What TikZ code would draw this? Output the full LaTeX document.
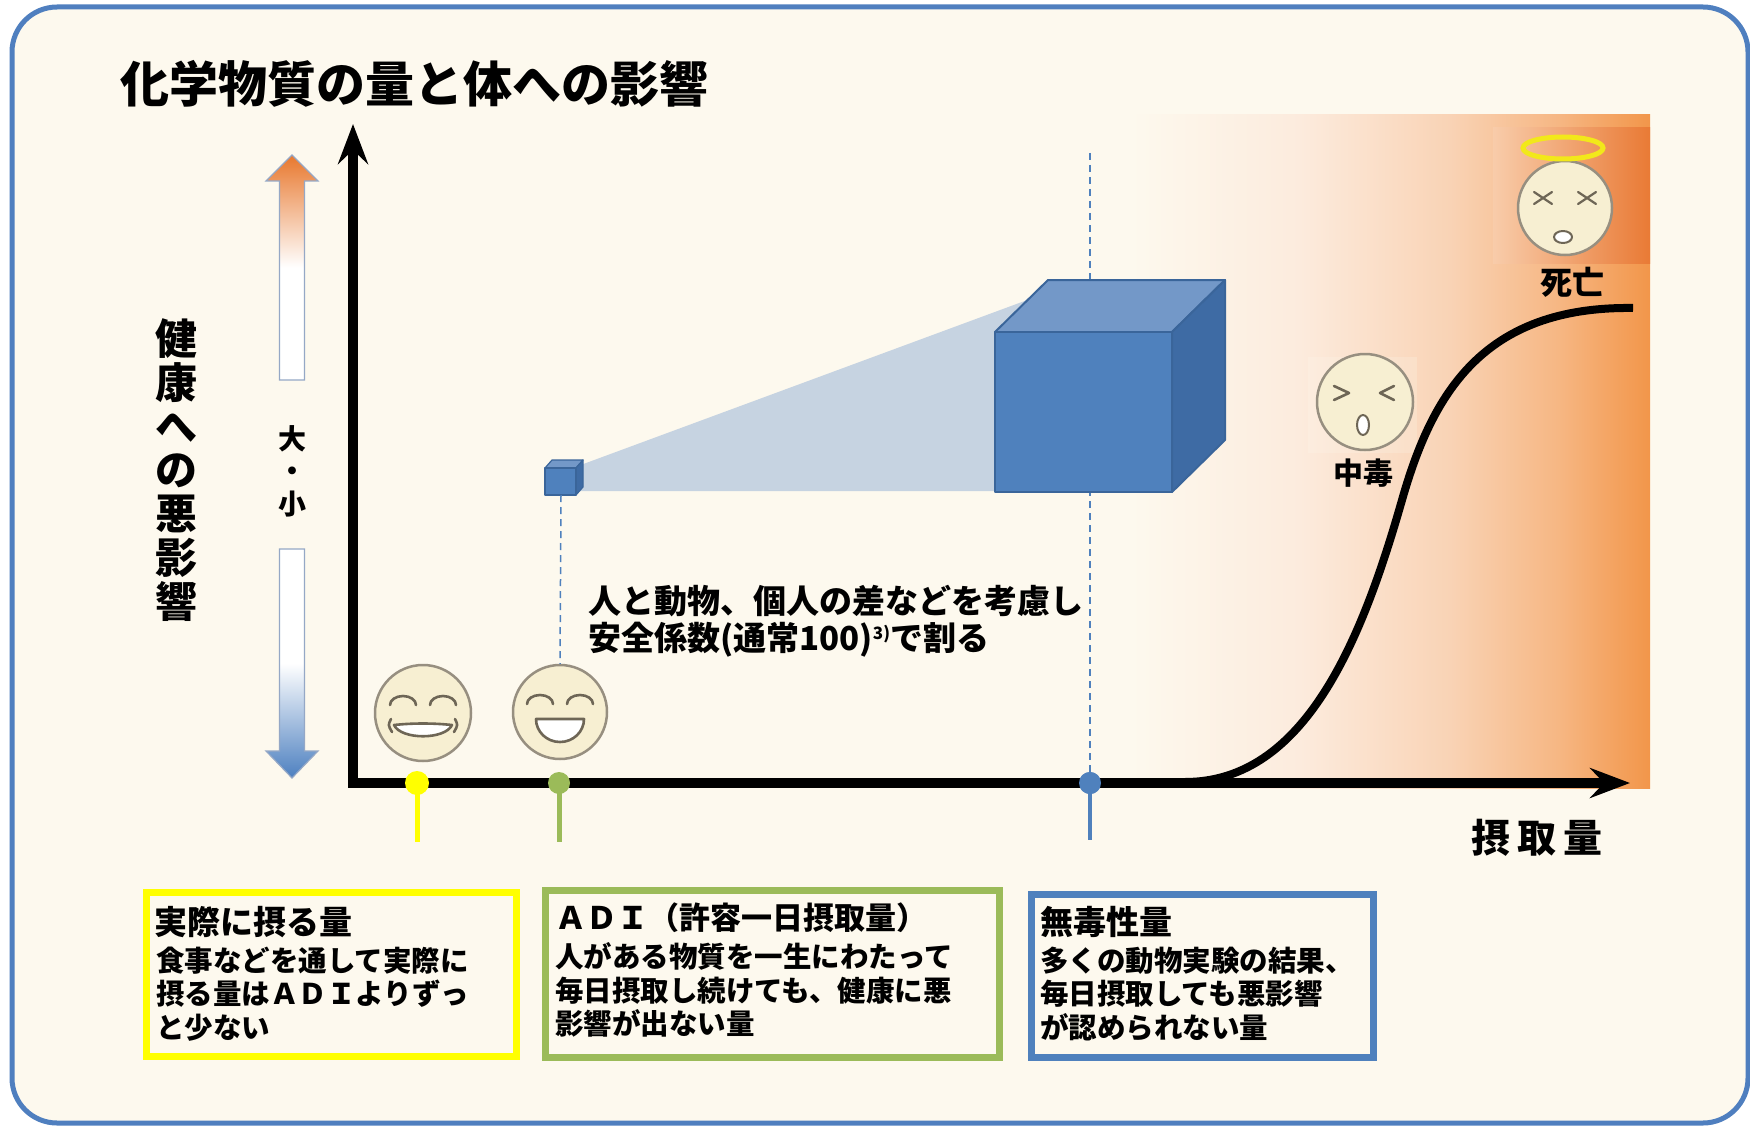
\documentclass[tikz,border=0pt]{standalone}
\usepackage{fontspec}
\setmainfont{Noto Sans CJK JP}
\usetikzlibrary{arrows.meta,calc}

\definecolor{cream}{HTML}{FDF9EE}
\definecolor{framebl}{HTML}{4F7FBF}
\definecolor{accblue}{HTML}{4F81BD}
\definecolor{accgreen}{HTML}{9BBB59}
\definecolor{accyellow}{HTML}{FFFF00}
\definecolor{peachA}{HTML}{FCEBDD}
\definecolor{peachB}{HTML}{F9D3B5}
\definecolor{peachC}{HTML}{F6B682}
\definecolor{orng}{HTML}{F2964A}
\definecolor{blockL}{HTML}{F8CCAA}
\definecolor{blockR}{HTML}{E97A35}
\definecolor{wedgecol}{HTML}{C6D3E1}
\definecolor{cubefront}{HTML}{4F81BD}
\definecolor{cubetop}{HTML}{7398C8}
\definecolor{cubeside}{HTML}{3E6BA4}
\definecolor{cubeedge}{HTML}{3A659A}
\definecolor{skin}{HTML}{F7EFD2}
\definecolor{skinedge}{HTML}{978F80}
\definecolor{feature}{HTML}{6E6656}
\definecolor{arrowedge}{HTML}{95A8C6}
\definecolor{upor}{HTML}{E8782E}
\definecolor{downbl}{HTML}{4D80C0}
\definecolor{halocol}{HTML}{F2E81A}

\begin{document}
\begin{tikzpicture}[x=1pt,y=-1pt,
  jp/.style={font=\bfseries\fontsize{#1}{#1}\selectfont, inner sep=0pt, text=black},
  face/.style={circle, draw=skinedge, fill=skin, line width=2.5pt, minimum size=#1, inner sep=0pt},
  feat/.style={draw=feature, line width=2.6pt, line cap=round, line join=round},
  axisline/.style={line width=10pt, line join=miter,
    {Stealth[length=40pt,width=30pt,inset=14pt]}-{Stealth[length=40pt,width=30pt,inset=14pt]}},
  riskcurve/.style={line width=8pt},
  pinstem/.style={line width=5pt},
  pindot/.style={circle, fill=#1, minimum size=24pt, inner sep=0pt},
  guide/.style={draw=accblue, line width=1.5pt, dash pattern=on 7pt off 5pt},
  infobox/.style={draw=#1, line width=7pt, anchor=north west, inner sep=0pt},
  cubeface/.style={draw=cubeedge, line width=2pt, line join=round},
  halostyle/.style={draw=halocol, line width=5pt},
  ]
\useasboundingbox (0,0) rectangle (1750,1126);

% page and rounded frame
\fill[white] (0,0) rectangle (1750,1126);
\draw[framebl, line width=5pt, fill=cream, rounded corners=45pt] (12,7) rectangle (1748,1123);

% title
\node[jp=49, anchor=base west] (title) at (120,103) {化学物質の量と体への影響};

% warm band on the high-dose side
\shade[left color=cream, right color=peachA] (1130,115) rectangle (1301,788);
\shade[left color=peachA, right color=peachB] (1300,115) rectangle (1451,788);
\shade[left color=peachB, right color=peachC] (1450,115) rectangle (1561,788);
\shade[left color=peachC, right color=orng] (1560,115) rectangle (1650,788);
\shade[left color=blockL, right color=blockR] (1493,128) rectangle (1650,263);
\fill[cream, opacity=0.22] (1308,357) rectangle (1417,453);

% no-effect level guide line
\coordinate (noaeltop) at (1090,153);
\node[pindot=accblue, minimum size=22pt] (noaeldot) at (1090,783) {};
\draw[guide] (noaeltop) -- (noaeldot.center);

% wedge between the two cubes
\fill[wedgecol] (578,466) -- (1030,299) -- (1030,491) -- (578,491) -- cycle;

% large cube
\filldraw[cubeface, fill=cubetop] (995,332) -- (1048,280) -- (1225,280) -- (1172,332) -- cycle;
\filldraw[cubeface, fill=cubeside] (1172,332) -- (1225,280) -- (1225,440) -- (1172,492) -- cycle;
\filldraw[cubeface, fill=cubefront] (995,332) rectangle (1172,492);

% small cube
\filldraw[cubeface, line width=1.2pt, fill=cubetop] (545,468) -- (552,460) -- (583,460) -- (576,468) -- cycle;
\filldraw[cubeface, line width=1.2pt, fill=cubeside] (576,468) -- (583,460) -- (583,487) -- (576,495) -- cycle;
\filldraw[cubeface, line width=1.2pt, fill=cubefront] (545,468) rectangle (576,495);
\coordinate (smallcube) at (561,495);

% dose-response curve
\draw[riskcurve] (1185,782) .. controls (1305,782) and (1362,640) .. (1402,500)
  .. controls (1432,395) and (1482,306) .. (1633,308);

% axes
\coordinate (origin) at (353,783);
\coordinate (ytop) at (353,124);
\coordinate (xend) at (1630,783);
\draw[axisline] (ytop) -- (origin) -- (xend);

% pins on the dose axis
\coordinate (actend) at (417,842);
\coordinate (adiend) at (559,842);
\coordinate (noaelend) at (1090,840);
\draw[pinstem, accyellow] (417,783) -- (actend);
\draw[pinstem, accgreen] (559,783) -- (adiend);
\draw[pinstem, accblue, line width=4pt] (1090,783) -- (noaelend);
\node[pindot=accyellow] (actdot) at (417,783) {};
\node[pindot=accgreen, minimum size=22pt] (adidot) at (559,783) {};
\node[pindot=accblue, minimum size=22pt] at (noaeldot) {};

% faces
\node[face=96pt] (grin) at (423,713) {};
\begin{scope}[shift={(grin.center)}]
  \draw[feat] (-33,-8) arc[start angle=180, end angle=360, x radius=13, y radius=9];
  \draw[feat] (7,-8) arc[start angle=180, end angle=360, x radius=13, y radius=9];
  \draw[feat, fill=white] (-29,12) .. controls (-10,10) and (10,10) .. (29,12)
     .. controls (22,27) and (-22,27) .. cycle;
  \draw[feat] (-32,6) .. controls (-35,12) .. (-31,19);
  \draw[feat] (32,6) .. controls (35,12) .. (31,19);
\end{scope}

\node[face=94pt] (smile) at (560,712) {};
\draw[guide] (smallcube) -- (smile.north);
\begin{scope}[shift={(smile.center)}]
  \draw[feat] (-33,-8) arc[start angle=180, end angle=360, x radius=13, y radius=9];
  \draw[feat] (7,-8) arc[start angle=180, end angle=360, x radius=13, y radius=9];
  \draw[feat, fill=white] (-24,7) -- (24,7) arc[start angle=0, end angle=180, x radius=24, y radius=23] -- cycle;
\end{scope}

\node[face=96pt] (poison) at (1365,402) {};
\begin{scope}[shift={(poison.center)}]
  \draw[feat] (-31,-16) -- (-16,-9) -- (-31,-2);
  \draw[feat] (29,-16) -- (15,-9) -- (29,-2);
  \draw[feat, line width=2pt, fill=white] (-2,23) ellipse[x radius=6, y radius=10];
\end{scope}
\node[jp=30, anchor=base] (poisonlbl) at (1363,484) {中毒};

\node[face=94pt] (death) at (1565,208) {};
\begin{scope}[shift={(death.center)}]
  \draw[feat, line width=2.2pt] (-31,-16) -- (-13,-4) (-31,-4) -- (-13,-16);
  \draw[feat, line width=2.2pt] (13,-16) -- (31,-4) (13,-4) -- (31,-16);
  \draw[feat, line width=2pt, fill=white] (-2,29) ellipse[x radius=9, y radius=6];
  \draw[halostyle] (-2,-60) ellipse[x radius=40, y radius=11];
\end{scope}
\node[jp=32, anchor=base] (deathlbl) at (1572,294) {死亡};

% safety-factor note
\node[jp=33, anchor=base west] (note1) at (588,613) {人と動物、個人の差などを考慮し};
\node[jp=33, anchor=base west] (note2) at (588,650)
  {安全係数(通常100)\raisebox{11pt}{\fontsize{17}{17}\selectfont 3)}で割る};

% axis labels
\node[jp=42, align=center, font=\bfseries\fontsize{42}{43.7}\selectfont] (ylabel) at (176,470)
  {健\\康\\へ\\の\\悪\\影\\響};
\node[jp=28, align=center, font=\bfseries\fontsize{28}{32.5}\selectfont] (scale) at (292,471)
  {大\\・\\小};
\node[jp=39, anchor=base] (xlabel) at (1537,852) {摂\hspace{7pt}取\hspace{7pt}量};

% graded arrows beside the vertical axis
\shadedraw[top color=upor, bottom color=white, middle color=white, draw=arrowedge, line width=1.2pt]
  (292,155) -- (318,181) -- (304.5,181) -- (304.5,380) -- (279.5,380) -- (279.5,181) -- (266,181) -- cycle;
\shadedraw[top color=white, bottom color=downbl, middle color=white, draw=arrowedge, line width=1.2pt]
  (279.5,549) -- (304.5,549) -- (304.5,751) -- (318,751) -- (292,778) -- (266,751) -- (279.5,751) -- cycle;

% explanation boxes
\node[infobox=accyellow, minimum width=370pt, minimum height=164pt] (actbox) at (143,889) {};
\node[jp=33, anchor=base west] (acttitle) at (154,934) {実際に摂る量};
\node[jp=28.5, anchor=base west] (act1) at (156,971) {食事などを通して実際に};
\node[jp=28.5, anchor=base west] (act2) at (156,1004) {摂る量はＡＤＩよりずっ};
\node[jp=28.5, anchor=base west] (act3) at (156,1038) {と少ない};

\node[infobox=accgreen, minimum width=454pt, minimum height=167pt] (adibox) at (541.5,886.5) {};
\node[jp=31, anchor=base west] (adititle) at (555,929) {ＡＤＩ（許容一日摂取量）};
\node[jp=28.5, anchor=base west] (adi1) at (555,967) {人がある物質を一生にわたって};
\node[jp=28.5, anchor=base west] (adi2) at (555,1001) {毎日摂取し続けても、健康に悪};
\node[jp=28.5, anchor=base west] (adi3) at (555,1034) {影響が出ない量};

\node[infobox=accblue, minimum width=342pt, minimum height=163pt] (noaelbox) at (1027.5,890.5) {};
\node[jp=33, anchor=base west] (noaeltitle) at (1040,934) {無毒性量};
\node[jp=28.5, anchor=base west] (noael1) at (1040,971) {多くの動物実験の結果、};
\node[jp=28.5, anchor=base west] (noael2) at (1040,1004) {毎日摂取しても悪影響};
\node[jp=28.5, anchor=base west] (noael3) at (1040,1038) {が認められない量};
\end{tikzpicture}
\end{document}
